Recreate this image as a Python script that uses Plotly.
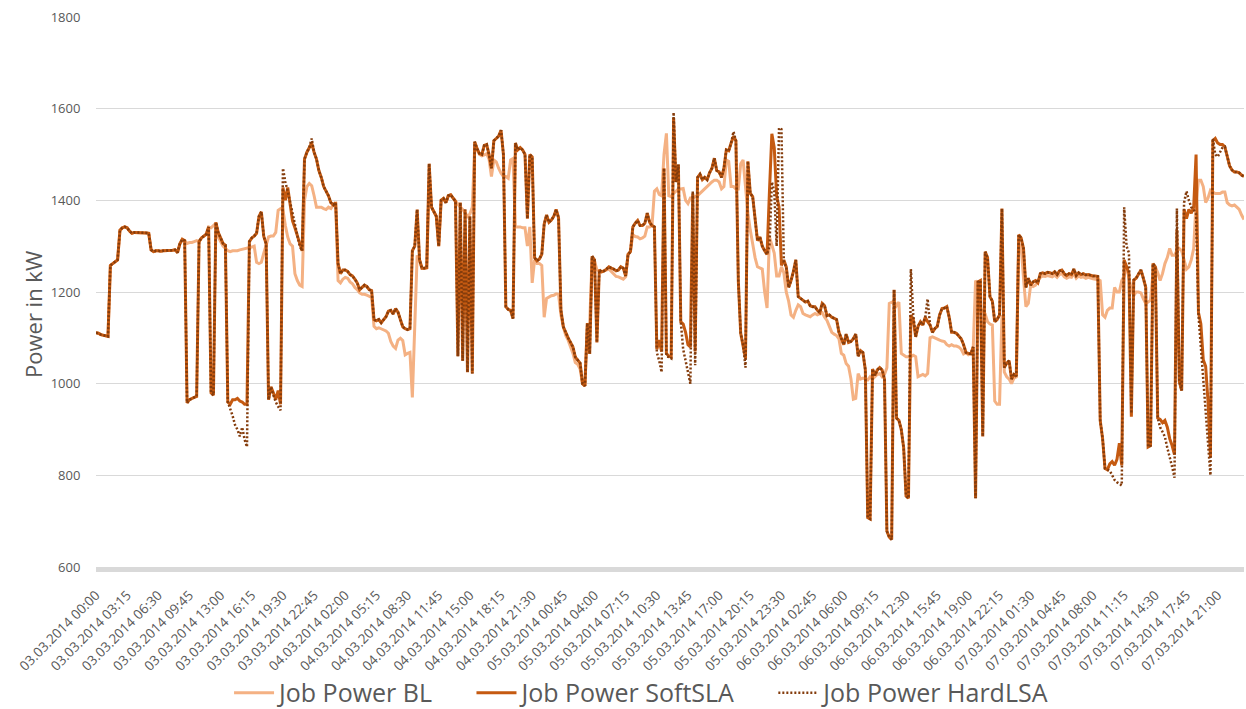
import pandas as pd
import plotly.graph_objects as go

# 15-minute time stamps, 03.03.2014 00:00 .. 07.03.2014 23:45
times = pd.date_range("2014-03-03 00:00", periods=480, freq="15min").strftime("%d.%m.%Y %H:%M").tolist()
tick_labels = times[::13]

power_bl = [
    1111, 1110, 1107, 1106, 1104, 1103, 1258, 1262, 1268, 1270,
    1335, 1340, 1342, 1340, 1333, 1328, 1330, 1330, 1330, 1330,
    1330, 1329, 1328, 1292, 1288, 1290, 1290, 1289, 1290, 1290,
    1291, 1290, 1291, 1292, 1286, 1305, 1315, 1312, 1306, 1308,
    1308, 1310, 1312, 1310, 1318, 1322, 1326, 1342, 1340, 1345,
    1350, 1320, 1310, 1300, 1295, 1290, 1288, 1290, 1290, 1290,
    1292, 1293, 1295, 1295, 1297, 1298, 1300, 1265, 1262, 1265,
    1285, 1300, 1320, 1322, 1322, 1330, 1378, 1382, 1380, 1345,
    1320, 1305, 1300, 1240, 1225, 1215, 1212, 1400, 1430, 1437,
    1432, 1410, 1385, 1385, 1385, 1382, 1380, 1385, 1382, 1390,
    1393, 1225, 1220, 1228, 1232, 1230, 1222, 1218, 1210, 1205,
    1198, 1195, 1195, 1193, 1190, 1188, 1125, 1120, 1122, 1120,
    1118, 1115, 1110, 1092, 1082, 1077, 1095, 1099, 1094, 1063,
    1066, 1068, 970, 1140, 1280, 1270, 1252, 1252, 1253, 1437,
    1385, 1375, 1365, 1300, 1400, 1404, 1395, 1410, 1412, 1405,
    1398, 1390, 1385, 1380, 1372, 1365, 1370, 1385, 1517, 1510,
    1500, 1497, 1499, 1502, 1490, 1452, 1488, 1484, 1470, 1459,
    1452, 1452, 1448, 1488, 1491, 1342, 1342, 1342, 1340, 1340,
    1300, 1342, 1220, 1270, 1262, 1262, 1258, 1145, 1186, 1190,
    1192, 1193, 1196, 1195, 1150, 1124, 1105, 1095, 1082, 1066,
    1046, 1042, 1032, 1000, 995, 1128, 1132, 1275, 1268, 1248,
    1246, 1244, 1246, 1248, 1250, 1245, 1240, 1234, 1233, 1230,
    1228, 1233, 1282, 1290, 1325, 1321, 1320, 1316, 1318, 1322,
    1342, 1342, 1345, 1420, 1425, 1413, 1410, 1500, 1546, 1410,
    1408, 1415, 1420, 1425, 1425, 1426, 1400, 1393, 1405, 1405,
    1408, 1410, 1415, 1420, 1425, 1430, 1437, 1440, 1444, 1444,
    1440, 1425, 1430, 1488, 1485, 1430, 1430, 1425, 1425, 1480,
    1488, 1430, 1372, 1335, 1305, 1275, 1255, 1252, 1250, 1200,
    1165, 1320, 1300, 1285, 1235, 1235, 1255, 1242, 1200, 1180,
    1150, 1145, 1160, 1172, 1168, 1153, 1150, 1148, 1146, 1150,
    1153, 1150, 1152, 1155, 1145, 1138, 1125, 1112, 1108, 1105,
    1098, 1066, 1062, 1044, 1038, 1010, 966, 968, 1022, 1010,
    1012, 1010, 1008, 1015, 1010, 1015, 1020, 1022, 1015, 1020,
    1035, 1175, 1178, 1180, 1170, 1178, 1066, 1062, 1059, 1059,
    1059, 1062, 1059, 1015, 1018, 1020, 1017, 1022, 1100, 1102,
    1100, 1097, 1095, 1093, 1092, 1085, 1082, 1085, 1082, 1082,
    1080, 1075, 1065, 1068, 1063, 1065, 1075, 1225, 1215, 1160,
    1160, 1152, 1135, 1130, 1128, 962, 955, 955, 1150, 1025,
    1015, 1010, 1000, 1012, 1015, 1305, 1300, 1230, 1168, 1175,
    1215, 1212, 1215, 1225, 1232, 1235, 1234, 1236, 1235, 1233,
    1237, 1232, 1238, 1240, 1233, 1230, 1233, 1232, 1240, 1230,
    1235, 1232, 1233, 1230, 1232, 1230, 1229, 1228, 1228, 1225,
    1150, 1145, 1160, 1165, 1165, 1210, 1200, 1200, 1225, 1235,
    1258, 1230, 1205, 1192, 1200, 1200, 1198, 1185, 1175, 1178,
    1182, 1240, 1255, 1242, 1225, 1240, 1262, 1275, 1295, 1280,
    1280, 1290, 1295, 1290, 1270, 1250, 1255, 1270, 1295, 1395,
    1444, 1444, 1430, 1395, 1405, 1422, 1418, 1415, 1415, 1415,
    1418, 1418, 1395, 1390, 1388, 1390, 1385, 1380, 1368, 1358,
]

power_soft = [
    1111, 1110, 1107, 1106, 1104, 1103, 1258, 1262, 1268, 1270,
    1335, 1340, 1342, 1340, 1333, 1328, 1330, 1330, 1330, 1330,
    1330, 1329, 1328, 1292, 1288, 1290, 1290, 1289, 1290, 1290,
    1291, 1290, 1291, 1292, 1286, 1305, 1315, 1312, 958, 965,
    968, 970, 972, 1310, 1318, 1322, 1326, 1342, 980, 975,
    1352, 1330, 1316, 1306, 1302, 960, 955, 965, 965, 968,
    962, 960, 955, 955, 1310, 1318, 1322, 1328, 1365, 1375,
    1321, 1305, 965, 993, 980, 965, 985, 955, 1428, 1400,
    1428, 1385, 1355, 1340, 1325, 1306, 1290, 1490, 1505, 1515,
    1525, 1505, 1490, 1465, 1450, 1430, 1420, 1410, 1395, 1390,
    1395, 1262, 1240, 1248, 1248, 1245, 1238, 1235, 1228, 1220,
    1205, 1210, 1215, 1212, 1205, 1203, 1140, 1137, 1140, 1133,
    1140, 1146, 1158, 1160, 1152, 1164, 1156, 1138, 1124, 1120,
    1118, 1120, 1290, 1300, 1380, 1270, 1252, 1252, 1253, 1480,
    1385, 1375, 1365, 1300, 1400, 1404, 1395, 1410, 1412, 1405,
    1398, 1060, 1395, 1050, 1380, 1025, 1365, 1022, 1528, 1513,
    1502, 1500, 1520, 1522, 1500, 1470, 1530, 1535, 1540, 1553,
    1500, 1168, 1162, 1160, 1142, 1525, 1510, 1515, 1510, 1500,
    1360, 1500, 1495, 1275, 1268, 1272, 1282, 1348, 1368, 1352,
    1357, 1365, 1380, 1362, 1160, 1124, 1110, 1100, 1090, 1080,
    1058, 1052, 1045, 1000, 995, 1132, 1065, 1278, 1270, 1090,
    1248, 1244, 1246, 1250, 1255, 1252, 1250, 1246, 1248, 1255,
    1252, 1235, 1282, 1288, 1342, 1350, 1356, 1345, 1345, 1350,
    1372, 1352, 1345, 1342, 1075, 1095, 1070, 1470, 1066, 1060,
    1058, 1580, 1440, 1478, 1135, 1130, 1112, 1085, 1080, 1415,
    1070, 1450, 1457, 1445, 1450, 1445, 1460, 1470, 1492, 1465,
    1462, 1450, 1470, 1510, 1508, 1525, 1540, 1530, 1225, 1110,
    1085, 1055, 1485, 1415, 1408, 1360, 1312, 1320, 1300, 1290,
    1282, 1420, 1545, 1515, 1410, 1385, 1258, 1270, 1255, 1210,
    1225, 1245, 1270, 1190, 1186, 1182, 1178, 1180, 1170, 1168,
    1168, 1160, 1155, 1175, 1170, 1148, 1150, 1145, 1142, 1140,
    1112, 1098, 1085, 1108, 1090, 1092, 1098, 1108, 1060, 1072,
    1068, 1030, 708, 705, 1032, 1018, 1030, 1035, 1030, 1010,
    678, 665, 660, 1205, 925, 920, 900, 860, 755, 750,
    1150, 1140, 1102, 1125, 1135, 1128, 1145, 1135, 1128, 1112,
    1120, 1125, 1150, 1164, 1165, 1168, 1145, 1112, 1112, 1110,
    1105, 1098, 1085, 1068, 1066, 1065, 1080, 750, 1222, 1225,
    885, 1288, 1275, 1190, 1180, 1135, 1140, 1150, 1382, 1035,
    1045, 1050, 1010, 1020, 1016, 1325, 1318, 1295, 1210, 1230,
    1215, 1222, 1225, 1220, 1240, 1242, 1240, 1243, 1242, 1240,
    1244, 1238, 1246, 1248, 1240, 1236, 1240, 1238, 1250, 1236,
    1242, 1238, 1240, 1237, 1238, 1236, 1235, 1235, 1234, 920,
    880, 815, 812, 825, 830, 822, 835, 870, 822, 1270,
    1255, 1241, 928, 1226, 1230, 1240, 1248, 1230, 1210, 862,
    865, 1262, 1255, 925, 922, 915, 920, 905, 880, 865,
    845, 1335, 1005, 985, 1380, 1360, 1380, 1372, 1385, 1500,
    1155, 1130, 1052, 1038, 960, 840, 1530, 1535, 1525, 1522,
    1522, 1517, 1495, 1475, 1466, 1462, 1462, 1460, 1455, 1452,
]

power_hard = [
    1111, 1110, 1107, 1106, 1104, 1103, 1258, 1262, 1268, 1270,
    1335, 1340, 1342, 1340, 1333, 1328, 1330, 1330, 1330, 1330,
    1330, 1329, 1328, 1292, 1288, 1290, 1290, 1289, 1290, 1290,
    1291, 1290, 1291, 1292, 1286, 1305, 1315, 1312, 958, 965,
    968, 970, 972, 1310, 1318, 1322, 1326, 1342, 980, 975,
    1352, 1330, 1316, 1306, 1302, 960, 945, 930, 910, 900,
    885, 905, 878, 862, 1310, 1318, 1322, 1328, 1365, 1375,
    1321, 1305, 965, 993, 975, 960, 950, 942, 1470, 1440,
    1420, 1395, 1370, 1350, 1320, 1300, 1290, 1490, 1505, 1515,
    1535, 1505, 1490, 1465, 1450, 1430, 1420, 1410, 1395, 1390,
    1395, 1262, 1240, 1248, 1248, 1245, 1238, 1235, 1228, 1220,
    1205, 1210, 1215, 1212, 1205, 1203, 1140, 1137, 1140, 1133,
    1140, 1146, 1158, 1160, 1152, 1164, 1156, 1138, 1124, 1120,
    1118, 1120, 1290, 1300, 1380, 1270, 1252, 1252, 1253, 1480,
    1385, 1375, 1365, 1300, 1400, 1404, 1395, 1410, 1412, 1405,
    1398, 1060, 1395, 1050, 1380, 1025, 1365, 1022, 1528, 1513,
    1502, 1500, 1520, 1522, 1500, 1470, 1530, 1535, 1540, 1553,
    1500, 1168, 1162, 1160, 1142, 1525, 1510, 1515, 1510, 1500,
    1360, 1500, 1495, 1275, 1268, 1272, 1282, 1348, 1368, 1352,
    1357, 1365, 1380, 1362, 1160, 1124, 1110, 1100, 1090, 1080,
    1058, 1052, 1045, 1000, 995, 1132, 1065, 1278, 1270, 1090,
    1248, 1244, 1246, 1250, 1255, 1252, 1250, 1246, 1248, 1255,
    1252, 1235, 1282, 1288, 1342, 1350, 1356, 1345, 1345, 1350,
    1372, 1352, 1345, 1342, 1068, 1050, 1025, 1470, 1060, 1058,
    1055, 1592, 1440, 1478, 1135, 1075, 1050, 1020, 1000, 1420,
    1040, 1450, 1457, 1445, 1450, 1445, 1460, 1470, 1492, 1465,
    1462, 1450, 1470, 1510, 1508, 1525, 1550, 1530, 1225, 1110,
    1085, 1035, 1485, 1415, 1408, 1360, 1312, 1320, 1300, 1290,
    1282, 1300, 1440, 1420, 1300, 1558, 1555, 1265, 1255, 1210,
    1225, 1245, 1270, 1190, 1186, 1182, 1178, 1180, 1170, 1168,
    1168, 1160, 1155, 1175, 1170, 1148, 1150, 1145, 1142, 1140,
    1112, 1098, 1085, 1108, 1090, 1092, 1098, 1108, 1060, 1072,
    1068, 1030, 708, 705, 1032, 1018, 1030, 1035, 1030, 1010,
    678, 665, 660, 1205, 925, 920, 900, 860, 755, 750,
    1250, 1150, 1102, 1125, 1135, 1128, 1145, 1185, 1128, 1112,
    1120, 1125, 1150, 1164, 1165, 1168, 1145, 1112, 1112, 1110,
    1105, 1098, 1085, 1068, 1066, 1065, 1080, 750, 1222, 1225,
    885, 1288, 1275, 1190, 1180, 1135, 1140, 1150, 1382, 1035,
    1045, 1050, 1010, 1020, 1016, 1325, 1318, 1295, 1210, 1230,
    1215, 1222, 1225, 1220, 1240, 1242, 1240, 1243, 1242, 1240,
    1244, 1238, 1246, 1248, 1240, 1236, 1240, 1238, 1250, 1236,
    1242, 1238, 1240, 1237, 1238, 1236, 1235, 1235, 1234, 920,
    880, 815, 812, 810, 800, 790, 785, 782, 778, 1385,
    1300, 1285, 935, 1226, 1230, 1240, 1248, 1230, 1210, 862,
    865, 1262, 1255, 925, 905, 895, 884, 860, 841, 819,
    795, 1382, 1005, 985, 1395, 1420, 1400, 1385, 1380, 1370,
    1150, 1080, 1010, 945, 880, 800, 1535, 1500, 1495, 1505,
    1515, 1517, 1495, 1475, 1466, 1462, 1462, 1460, 1455, 1452,
]

series_names = ["Job Power BL", "Job Power SoftSLA", "Job Power HardLSA"]
y_title = "Power in kW"

TEXT = "#595959"
GRID = "#d9d9d9"
PAD = "\u00a0" * 5  # spacing after the first two legend entries

fig = go.Figure()
fig.add_trace(go.Scatter(
    x=times, y=power_bl, mode="lines", name=series_names[0] + PAD,
    line=dict(color="#F4B183", width=3),
))
fig.add_trace(go.Scatter(
    x=times, y=power_soft, mode="lines", name=series_names[1] + PAD,
    line=dict(color="#C55A11", width=3),
))
fig.add_trace(go.Scatter(
    x=times, y=power_hard, mode="lines", name=series_names[2],
    line=dict(color="#843C0C", width=2.5, dash="2px,2px"),
))

# vertical axis title, placed a little below the plot's mid-height
fig.add_annotation(
    text=y_title, textangle=-90, showarrow=False,
    xref="paper", yref="paper", x=-0.0549, y=0.46,
    xanchor="center", yanchor="middle",
    font=dict(size=22, color=TEXT, family="Open Sans"),
)

fig.update_layout(
    width=1246, height=709,
    margin=dict(l=96, r=2, t=17, b=142),
    paper_bgcolor="white", plot_bgcolor="white",
    font=dict(family="Open Sans", color=TEXT),
    showlegend=True,
    legend=dict(
        orientation="h", xref="paper", x=0.1159, xanchor="left",
        yref="container", y=0.0226, yanchor="middle",
        font=dict(size=25, color=TEXT), itemwidth=40,
    ),
    xaxis=dict(
        type="category", range=[0, len(times) - 1],
        tickmode="array", tickvals=tick_labels, ticktext=tick_labels,
        tickangle=-45, tickfont=dict(size=13.5, color=TEXT),
        showgrid=False, zeroline=False, automargin=False,
        showline=True, linecolor=GRID, linewidth=5,
        ticks="outside", ticklen=10, tickcolor="rgba(0,0,0,0)",
    ),
    yaxis=dict(
        range=[600, 1800], tick0=600, dtick=200,
        showgrid=True, gridcolor=GRID, gridwidth=1,
        zeroline=False, showline=False, automargin=False,
        tickfont=dict(size=13, color=TEXT),
        ticks="outside", ticklen=12, tickcolor="rgba(0,0,0,0)",
    ),
)

fig.write_html("out.html")
